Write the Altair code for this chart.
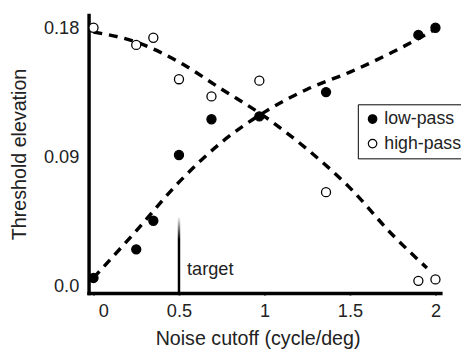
import altair as alt
import pandas as pd

# measured data points
x_pts = [0.0, 0.25, 0.35, 0.5, 0.69, 0.97, 1.36, 1.9, 2.0]
low_pass = [0.005, 0.025, 0.045, 0.091, 0.116, 0.118, 0.135, 0.175, 0.180]
high_pass = [0.180, 0.168, 0.173, 0.144, 0.132, 0.143, 0.065, 0.003, 0.004]

# fitted (dashed) curves
fit_x_low = [0.0, 0.25, 0.5, 0.75, 1.0, 1.25, 1.5, 1.75, 2.0]
fit_low = [0.005, 0.038, 0.072, 0.100, 0.121, 0.137, 0.149, 0.163, 0.179]
fit_x_high = [0.0, 0.25, 0.5, 0.75, 1.0, 1.25, 1.5, 1.75, 1.95]
fit_high = [0.177, 0.170, 0.156, 0.137, 0.118, 0.095, 0.068, 0.035, 0.012]

series = ["low-pass", "high-pass"]
target_x = [0.5]
target_top = [0.048]
target_label = ["target"]

y_min, y_max = -0.0055, 0.189

pts = pd.DataFrame({
    "x": x_pts * 2,
    "y": low_pass + high_pass,
    "series": [series[0]] * len(x_pts) + [series[1]] * len(x_pts),
})
fits = pd.DataFrame({
    "x": fit_x_low + fit_x_high,
    "y": fit_low + fit_high,
    "series": [series[0]] * len(fit_x_low) + [series[1]] * len(fit_x_high),
})
tgt = pd.DataFrame({"x": target_x, "y0": [y_min], "y1": target_top})
tlabel = pd.DataFrame({"x": [0.547], "y": [0.011], "t": target_label})

font = "Liberation Sans"
txt = "#222222"

xs = alt.Scale(domain=[0, 2], nice=False, zero=False)
ys = alt.Scale(domain=[y_min, y_max], nice=False, zero=False)

xaxis = alt.Axis(
    title="Noise cutoff (cycle/deg)", values=[0, 0.5, 1, 1.5, 2],
    labelExpr="datum.value == 0 ? '0' : format(datum.value, '')",
    labelFontSize=18.5, titleFontSize=20, labelFont=font, titleFont=font,
    labelColor=txt, titleColor=txt, titleFontWeight="normal",
    domainColor="black", domainWidth=3.5, tickColor="black", tickSize=2,
    tickWidth=2, labelPadding=7, titlePadding=9, grid=False, titleX=172,
    labelOffset={"condition": {"test": "datum.value == 0", "value": 10}, "value": 0},
)
yaxis = alt.Axis(
    title="Threshold elevation", values=[0, 0.09, 0.18],
    labelExpr="datum.value == 0 ? '0.0' : format(datum.value, '.2f')",
    labelFontSize=18.5, titleFontSize=20, labelFont=font, titleFont=font,
    labelColor=txt, titleColor=txt, titleFontWeight="normal",
    domainColor="black", domainWidth=3.5, ticks=False,
    labelPadding=10, titlePadding=14, grid=False,
)

base_x = alt.X("x:Q", scale=xs, axis=xaxis)
base_y = alt.Y("y:Q", scale=ys, axis=yaxis)

lines = alt.Chart(fits).mark_line(
    color="black", strokeWidth=3.5, strokeDash=[9, 7], interpolate="monotone"
).encode(x=base_x, y=base_y, detail="series:N")

spike = alt.Chart(tgt).mark_bar(
    width=2.5,
    color=alt.Gradient(
        gradient="linear", x1=0, y1=1, x2=0, y2=0,
        stops=[alt.GradientStop(offset=0, color="black"),
               alt.GradientStop(offset=0.7, color="black"),
               alt.GradientStop(offset=1, color="white")],
    ),
).encode(x=alt.X("x:Q", scale=xs), y=alt.Y("y0:Q", scale=ys), y2="y1:Q")

label = alt.Chart(tlabel).mark_text(
    align="left", baseline="middle", fontSize=18.5, font=font, color=txt
).encode(x=alt.X("x:Q", scale=xs), y=alt.Y("y:Q", scale=ys), text="t:N")

points = alt.Chart(pts).mark_point(
    shape="circle", size=85, stroke="black", strokeWidth=1.3, opacity=1, filled=True
).encode(
    x=base_x, y=base_y,
    fill=alt.Fill("series:N", scale=alt.Scale(domain=series, range=["black", "white"]),
                  legend=alt.Legend(
                      title=None, orient="none", legendX=274, legendY=91,
                      labelFontSize=18, labelFont=font, labelColor=txt,
                      symbolType="circle", symbolSize=75, symbolStrokeColor="black",
                      symbolStrokeWidth=1.2, strokeColor="black", padding=6,
                      rowPadding=7, labelOffset=3, fillColor="white",
                  )),
)

chart = alt.layer(lines, spike, label, points).properties(
    width=358, height=283,
    autosize=alt.AutoSizeParams(type="none"),
    padding={"left": 82, "top": 4, "right": 21, "bottom": 54},
).configure_view(stroke=None).configure_axis(domainCap="square")

chart.save("out.html", embed_options={"renderer": "svg", "actions": False})
